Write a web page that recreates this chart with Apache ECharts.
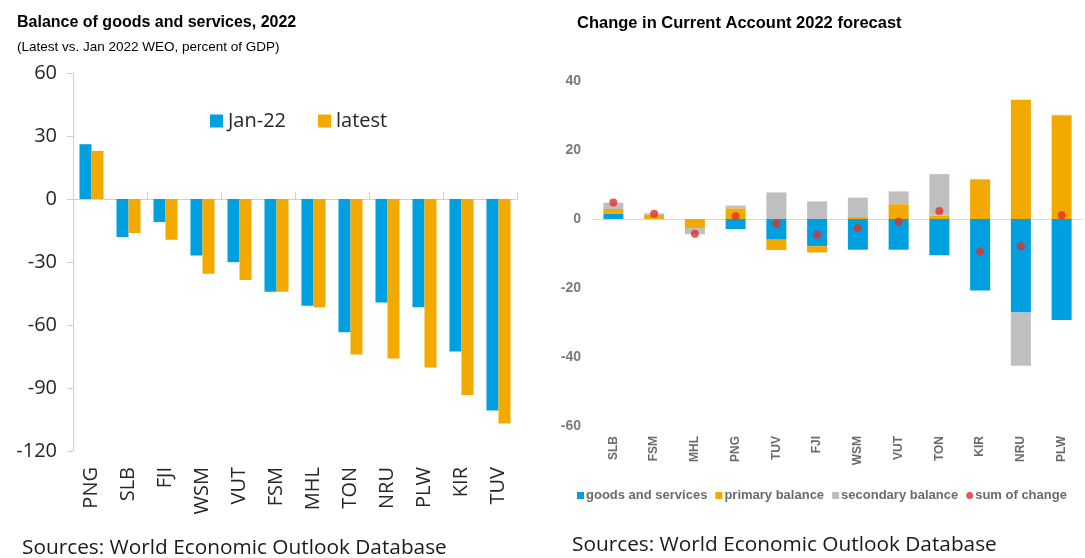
<!DOCTYPE html>
<html>
<head>
	<meta charset="UTF-8">
	<title></title>
	<script src="https://cdn.jsdelivr.net/npm/echarts@6/dist/echarts.min.js"></script>
	<style>
		html, body { margin: 0; padding: 0; background: #fff; }
	</style>
</head>
<body>
	<div id="main" style="width: 1085px;height:558px;"></div>
	<script type="text/javascript">
		// left panel: balance of goods and services
		var countriesLeft = ['PNG', 'SLB', 'FJI', 'WSM', 'VUT', 'FSM', 'MHL', 'TON', 'NRU', 'PLW', 'KIR', 'TUV'];
		var jan22 = [26.1, -18.1, -11.0, -26.9, -30.1, -44.2, -50.8, -63.5, -49.3, -51.6, -72.6, -100.7];
		var latest = [22.9, -16.2, -19.4, -35.6, -38.6, -44.2, -51.6, -74.1, -76.0, -80.2, -93.3, -106.9];

		// right panel: change in current account
		var countriesRight = ['SLB', 'FSM', 'MHL', 'PNG', 'TUV', 'FJI', 'WSM', 'VUT', 'TON', 'KIR', 'NRU', 'PLW'];
		var goods = [1.6, 0, 0, -2.9, -6.0, -7.9, -8.9, -8.9, -10.5, -20.7, -27.1, -29.3];
		var primary = [1.3, 1.25, -2.6, 3.1, -3.0, -1.8, 0.6, 4.3, 1.0, 11.5, 34.6, 29.9];
		var secondary = [1.8, 0.4, -1.8, 0.8, 7.7, 5.1, 5.6, 3.7, 12.0, 0, -15.4, 0.3];
		var sumChange = [4.8, 1.5, -4.3, 0.8, -1.3, -4.6, -2.7, -0.8, 2.3, -9.4, -7.9, 1.1];

		var BLUE = '#009fdf', ORANGE = '#f2a900', GRAY = '#bfbfbf', RED = '#e0302a';
		var sans = 'Open Sans', arial = 'Liberation Sans';

		var myChart = echarts.init(document.getElementById('main'));

		myChart.setOption({
			backgroundColor: '#fff',
			animation: false,
			title: [{
				text: 'Balance of goods and services, 2022',
				left: 17, top: 15, padding: 0,
				textStyle: { fontFamily: arial, fontSize: 16, fontWeight: 'bold', color: '#000' }
			}, {
				text: '(Latest vs. Jan 2022 WEO, percent of GDP)',
				left: 17, top: 40, padding: 0,
				textStyle: { fontFamily: arial, fontSize: 13.5, fontWeight: 'normal', color: '#000' }
			}, {
				text: 'Change in Current Account 2022 forecast',
				left: 577, top: 15, padding: 0,
				textStyle: { fontFamily: arial, fontSize: 16.5, fontWeight: 'bold', color: '#000' }
			}, {
				text: 'Sources: World Economic Outlook Database',
				left: 22, top: 538, padding: 0,
				textStyle: { fontFamily: sans, fontSize: 20.8, fontWeight: 'normal', color: '#1a1a1a' }
			}, {
				text: 'Sources: World Economic Outlook Database',
				left: 572, top: 535, padding: 0,
				textStyle: { fontFamily: sans, fontSize: 20.8, fontWeight: 'normal', color: '#1a1a1a' }
			}],
			legend: [{
				data: ['Jan-22', 'latest'],
				left: 205, top: 106,
				itemWidth: 13, itemHeight: 13, itemGap: 32,
				icon: 'rect',
				textStyle: { fontFamily: sans, fontSize: 20, color: '#262626' }
			}, {
				data: [{ name: 'goods and services', icon: 'rect' }, { name: 'primary balance', icon: 'rect' },
					{ name: 'secondary balance', icon: 'rect' }, { name: 'sum of change', icon: 'circle' }],
				left: 572, top: 484,
				itemWidth: 7, itemHeight: 7, itemGap: 8,
				textStyle: { fontFamily: arial, fontSize: 13, fontWeight: 'bold', color: '#6b6b6b', padding: [0, 0, 0, -3] }
			}],
			grid: [{
				left: 73, top: 73, width: 444, height: 378
			}, {
				left: 593, top: 81, width: 489, height: 345
			}],
			xAxis: [{
				gridIndex: 0, type: 'category', data: countriesLeft, position: 'bottom',
				axisLine: { show: false, onZero: false }, axisTick: { show: false },
				axisLabel: { rotate: 90, fontFamily: sans, fontSize: 20, color: '#262626', margin: 16 }
			}, {
				gridIndex: 0, type: 'category', data: countriesLeft, position: 'top',
				axisLine: { onZero: true, lineStyle: { color: '#d0d0d0', width: 1 } },
				axisTick: { show: true, length: 7, lineStyle: { color: '#d0d0d0' } },
				axisLabel: { show: false }
			}, {
				gridIndex: 1, type: 'category', data: countriesRight, position: 'bottom',
				axisLine: { show: false, onZero: false }, axisTick: { show: false },
				axisLabel: { rotate: 90, fontFamily: arial, fontSize: 12, fontWeight: 'bold', color: '#6b6b6b', margin: 10 }
			}, {
				gridIndex: 1, type: 'category', data: countriesRight, position: 'top',
				axisLine: { onZero: true, lineStyle: { color: '#d9d9d9', width: 1 } },
				axisTick: { show: false },
				axisLabel: { show: false }
			}],
			yAxis: [{
				gridIndex: 0, type: 'value', min: -120, max: 60, interval: 30,
				axisLine: { show: true, lineStyle: { color: '#d0d0d0' } },
				axisTick: { show: true, length: 6, lineStyle: { color: '#d0d0d0' } },
				splitLine: { show: false },
				axisLabel: { fontFamily: sans, fontSize: 20, color: '#262626', margin: 16 }
			}, {
				gridIndex: 1, type: 'value', min: -60, max: 40, interval: 20,
				axisLine: { show: false }, axisTick: { show: false },
				splitLine: { show: false },
				axisLabel: { fontFamily: arial, fontSize: 14, fontWeight: 'bold', color: '#7a7a7a', margin: 12 }
			}],
			series: [{
				name: 'Jan-22', type: 'bar', xAxisIndex: 0, yAxisIndex: 0,
				data: jan22, itemStyle: { color: BLUE },
				barGap: 0, barCategoryGap: '35%'
			}, {
				name: 'latest', type: 'bar', xAxisIndex: 0, yAxisIndex: 0,
				data: latest, itemStyle: { color: ORANGE },
				barGap: 0, barCategoryGap: '35%'
			}, {
				name: 'goods and services', type: 'bar', xAxisIndex: 2, yAxisIndex: 1, stack: 'ca',
				data: goods, barWidth: 20, itemStyle: { color: BLUE }
			}, {
				name: 'primary balance', type: 'bar', xAxisIndex: 2, yAxisIndex: 1, stack: 'ca',
				data: primary, barWidth: 20, itemStyle: { color: ORANGE }
			}, {
				name: 'secondary balance', type: 'bar', xAxisIndex: 2, yAxisIndex: 1, stack: 'ca',
				data: secondary, barWidth: 20, itemStyle: { color: GRAY }
			}, {
				name: 'sum of change', type: 'scatter', xAxisIndex: 2, yAxisIndex: 1,
				data: sumChange, symbolSize: 8, itemStyle: { color: RED }, z: 5
			}]
		});
	</script>
</body>
</html>
